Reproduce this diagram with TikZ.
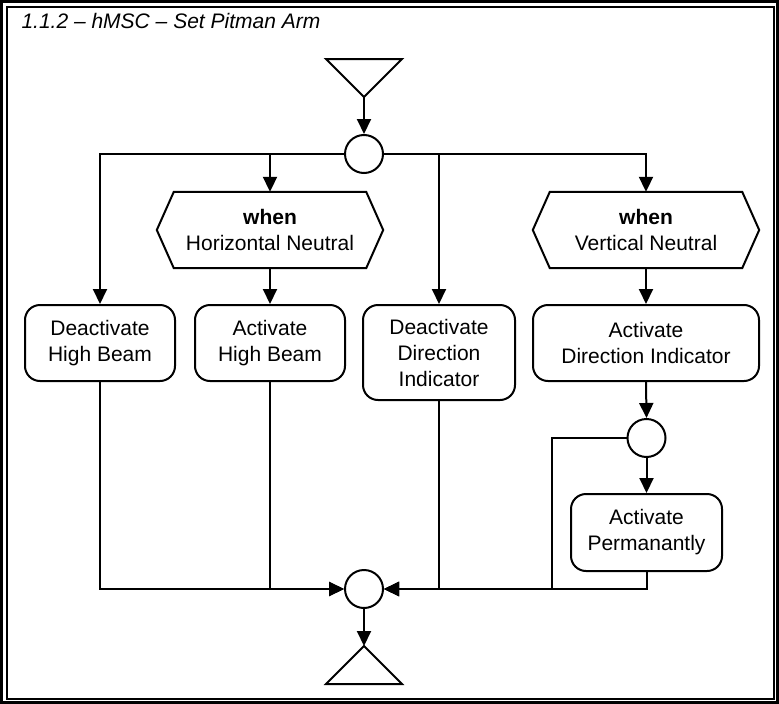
\documentclass[tikz,border=0pt]{standalone}
\usepackage{fontspec}
\setmainfont{Liberation Sans}
\usetikzlibrary{arrows.meta,calc}
\begin{document}
\begin{tikzpicture}[x=1pt,y=-1pt,
  every node/.style={font=\fontsize{21}{26}\selectfont},
  line/.style={line width=2pt},
  arr/.style={line width=2pt,-{Triangle[length=15pt,width=14pt]}},
  act/.style={draw,line width=2pt,rounded corners=15pt,align=center,inner sep=0pt},
  conn/.style={draw,circle,line width=2pt,minimum size=38pt,inner sep=0pt},
  cond/.style={align=center,inner sep=0pt,minimum height=76pt,minimum width=226pt}]
\useasboundingbox (0,0) rectangle (779,704);
% frame
\draw[line width=2.6pt] (1.5,1.5) rectangle (777.5,702.5);
\draw[line width=2pt] (7,7) rectangle (774,699);
\node[anchor=base west,font=\fontsize{21}{26}\selectfont\itshape] (title) at (18,28) {1.1.2 – hMSC – Set Pitman Arm};

% start / end triangles
\draw[line] (326,59) -- (402,59) -- (364,97) -- cycle;
\coordinate (s) at (364,97);
\draw[line] (364,646) -- (402,684) -- (326,684) -- cycle;
\coordinate (e) at (364,646);

% connectors (circles)
\node[conn] (c1) at (364,154) {};
\node[conn] (c2) at (646.5,438) {};
\node[conn] (c3) at (364,589) {};

% conditions
\node[cond] (h1) at (270,230) {\textbf{when}\\Horizontal Neutral};
\node[cond] (h2) at (646,230) {\textbf{when}\\Vertical Neutral};
\foreach \h in {h1,h2}{
  \draw[line] (\h.west) -- ($(\h.north west)+(17,0)$) -- ($(\h.north east)+(-17,0)$) -- (\h.east)
     -- ($(\h.south east)+(-17,0)$) -- ($(\h.south west)+(17,0)$) -- cycle;
}

% actions
\node[act,minimum width=150pt,minimum height=76pt] (dhb) at (100,343) {Deactivate\\High Beam};
\node[act,minimum width=150pt,minimum height=76pt] (ahb) at (270,343) {Activate\\High Beam};
\node[act,minimum width=152pt,minimum height=95pt] (ddi) at (439,352.5) {Deactivate\\Direction\\Indicator};
\node[act,minimum width=226pt,minimum height=76pt] (adi) at (646,343) {Activate\\Direction Indicator};
\node[act,minimum width=151pt,minimum height=77pt] (ap) at (646.5,532.5) {Activate\\Permanantly};

\coordinate (j) at (552,589);

% edges
\draw[arr] (s) -- (c1.north);
\draw[arr] (c1.west) -| (dhb.north);
\draw[arr] (c1.west) -| (h1.north);
\draw[arr] (c1.east) -| (ddi.north);
\draw[arr] (c1.east) -| (h2.north);
\draw[arr] (h1.south) -- (ahb.north);
\draw[arr] (h2.south) -- (adi.north);
\draw[arr] (adi.south) -- (c2.north);
\draw[arr] (c2.south) -- (ap.north);
\draw[line] (c2.west) -| (j);
\draw[arr] (dhb.south) |- (c3.west);
\draw[arr] (ahb.south) |- (c3.west);
\draw[arr] (ap.south) |- (c3.east);
\draw[arr] (ddi.south) |- (c3.east);
\draw[arr] (j) -- (c3.east);
\draw[arr] (c3.south) -- (e);
\end{tikzpicture}
\end{document}
